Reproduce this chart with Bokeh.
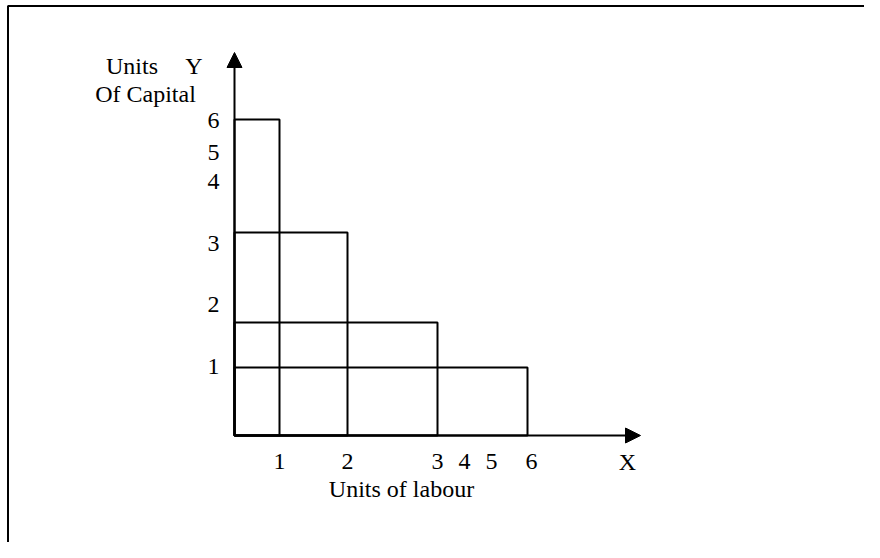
from bokeh.plotting import figure
from bokeh.models import Range1d, Arrow, NormalHead, ColumnDataSource
from bokeh.core.properties import value
from bokeh.embed import file_html
from bokeh.resources import INLINE

# ---- data ----
labour = [1, 2, 3, 6]          # units of labour for each combination
capital = [6, 3, 2, 1]         # units of capital for each combination
x_tick_values = [1, 2, 3, 4, 5, 6]
x_tick_labels = ["1", "2", "3", "4", "5", "6"]
y_tick_values = [6, 5, 4, 3, 2, 1]
y_tick_labels = ["6", "5", "4", "3", "2", "1"]
x_axis_name = "X"
y_axis_name = "Y"
x_title = "Units of labour"
y_title_1 = "Units"
y_title_2 = "Of Capital"

# ---- layout (non-linear drawing scale of the original diagram) ----
x_line_pos = {1: 45, 2: 113, 3: 203, 6: 293}
y_line_pos = {6: 316, 3: 203, 2: 113, 1: 68}
x_label_pos = {1: 45, 2: 113, 3: 203, 4: 230, 5: 257, 6: 297}
y_label_pos = {6: 315, 5: 283, 4: 254, 3: 192, 2: 131, 1: 69}

W, H = 864, 542
X0 = 234            # origin, pixels from the left edge
Y0 = H - 435        # origin, pixels from the bottom edge
FONT = value("Liberation Serif")
FS = "24px"

p = figure(width=W, height=H, output_backend="svg", toolbar_location=None,
           x_range=Range1d(-X0, W - X0), y_range=Range1d(-Y0, H - Y0),
           min_border=0, outline_line_color=None)
p.axis.visible = False
p.grid.visible = False
p.background_fill_color = "white"
p.border_fill_color = "white"

# frame border (open to the right and bottom)
bx, by = -X0 + 7.5, H - Y0 - 5.5
p.line(x=[bx, bx, W - X0 + 5], y=[-Y0 - 5, by, by],
       line_color="black", line_width=2)

# rectangles of factor combinations
src = ColumnDataSource(dict(
    left=[0] * len(labour), bottom=[0] * len(labour),
    right=[x_line_pos[v] for v in labour],
    top=[y_line_pos[v] for v in capital]))
p.quad(left="left", right="right", bottom="bottom", top="top", source=src,
       fill_color=None, line_color="black", line_width=2)

# axes with arrows
p.add_layout(Arrow(x_start=0, y_start=0, x_end=0, y_end=383, line_width=2,
                   line_color="black",
                   end=NormalHead(size=15, fill_color="black", line_color="black", line_width=1)))
p.add_layout(Arrow(x_start=0, y_start=0, x_end=406, y_end=0, line_width=2,
                   line_color="black",
                   end=NormalHead(size=15, fill_color="black", line_color="black", line_width=1)))

# tick labels
p.text(x=[x_label_pos[v] for v in x_tick_values], y=[-26] * len(x_tick_values),
       text=x_tick_labels, text_align="center", text_baseline="middle",
       text_font=FONT, text_font_size=FS, text_color="black")
p.text(x=[-21] * len(y_tick_values), y=[y_label_pos[v] for v in y_tick_values],
       text=y_tick_labels, text_align="center", text_baseline="middle",
       text_font=FONT, text_font_size=FS, text_color="black")

# axis names and titles
p.text(x=[393], y=[-26], text=[x_axis_name], text_align="center",
       text_baseline="middle", text_font=FONT, text_font_size=FS)
p.text(x=[-102.5, -40.5], y=[370, 370], text=[y_title_1, y_axis_name], text_align="center",
       text_baseline="alphabetic", text_font=FONT, text_font_size=FS)
p.text(x=[-89], y=[342], text=[y_title_2], text_align="center",
       text_baseline="alphabetic", text_font=FONT, text_font_size=FS)
p.text(x=[167], y=[-53], text=[x_title], text_align="center",
       text_baseline="middle", text_font=FONT, text_font_size=FS)

open("out.html", "w").write(file_html(p, INLINE))
